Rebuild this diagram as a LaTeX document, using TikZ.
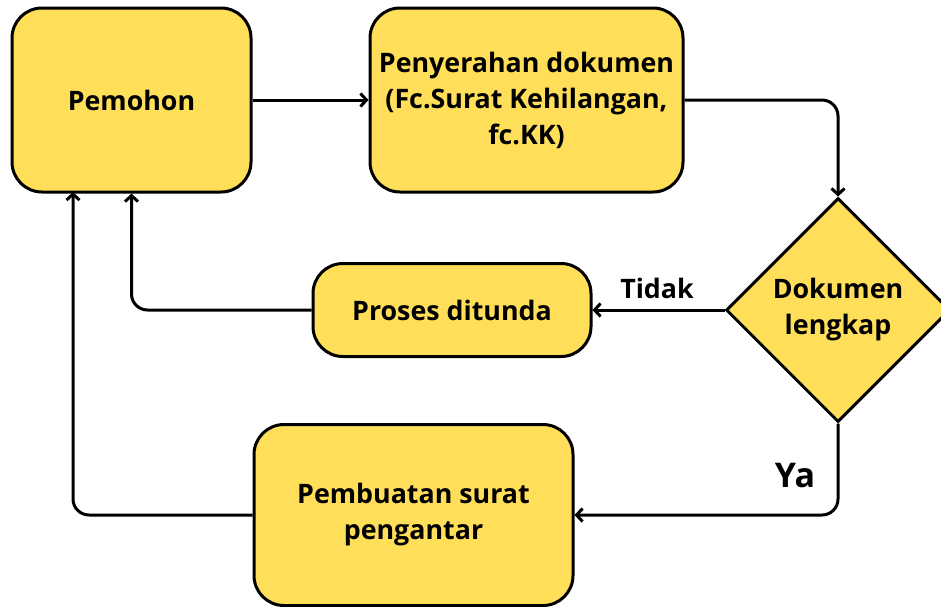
\documentclass[tikz,border=0pt]{standalone}
\usepackage{fontspec}
\setmainfont{Open Sans}
\usetikzlibrary{shapes.geometric,arrows.meta}
\definecolor{boxfill}{HTML}{FFDE59}
\begin{document}
\begin{tikzpicture}[x=1pt,y=-1pt,
  txt/.style={font=\bfseries\fontsize{26.8}{36}\selectfont, align=center},
  box/.style={txt, draw=black, line width=3pt, fill=boxfill, rounded corners=30pt, inner sep=0pt},
  dbox/.style={txt, diamond, draw=black, line width=3pt, fill=boxfill, inner sep=0pt, minimum width=224pt, minimum height=224pt},
  conn/.style={line width=3pt, rounded corners=16pt, -{Straight Barb[length=6pt,width=13pt,line width=3pt]}}]
\useasboundingbox (0,0) rectangle (941,606);
\node[box, minimum width=239pt, minimum height=184pt] (pem) at (131.5,100) {Pemohon};
\node[box, minimum width=313pt, minimum height=184pt] (pen) at (526.5,100) {Penyerahan dokumen\\(Fc.Surat Kehilangan,\\fc.KK)};
\node[box, minimum width=278pt, minimum height=93pt] (pro) at (452,310) {Proses ditunda};
\node[box, minimum width=319pt, minimum height=181pt] (pbs) at (413.5,515) {Pembuatan surat\\pengantar};
\node[dbox] (dia) at (838,310) {Dokumen\\lengkap};
\coordinate (pemL) at (73,192);
\node[txt] (tidak) at (657,288) {Tidak};
\node[font=\bfseries\fontsize{34}{40}\selectfont] (ya) at (795,476) {Ya};
\draw[conn] (pem.east) -- (pen.west);
\draw[conn] (pen.east) -| (dia.north);
\draw[conn] (dia.west) -- (pro.east);
\draw[conn] (pro.west) -| (pem.south);
\draw[conn] (pbs.west) -| (pemL);
\draw[conn] (dia.south) |- (pbs.east);
\end{tikzpicture}
\end{document}
